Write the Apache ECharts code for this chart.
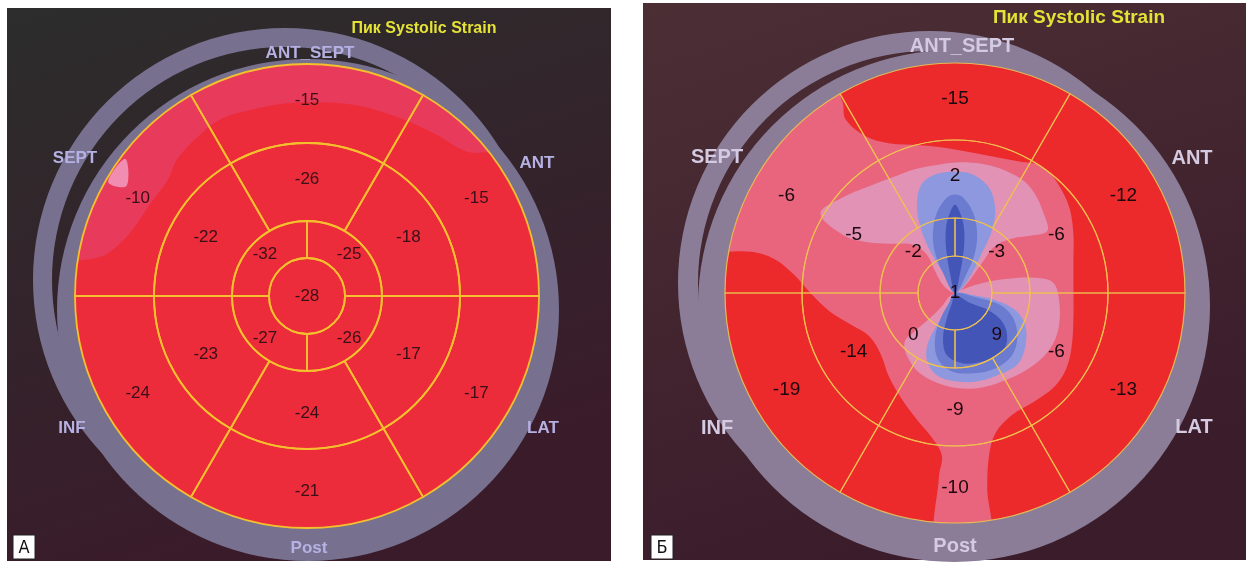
<!DOCTYPE html>
<html><head><meta charset="utf-8">
<script src="https://cdn.jsdelivr.net/npm/echarts@6/dist/echarts.min.js"></script>
<style>html,body{margin:0;padding:0;background:#fff}#c{width:1251px;height:564px}</style>
</head><body><div id="c"></div>
<script>
// ---------- data (17-segment bull's eye, peak systolic strain, %) ----------
// basal ring, clockwise from the ANT_SEPT segment (top)
const basalA = [-15, -15, -17, -21, -24, -10];
const midA = [-26, -18, -17, -24, -23, -22];
// apical ring: upper-right, lower-right, lower-left, upper-left
const apicalA = [-25, -26, -27, -32];
const apexA = [-28];
const basalB = [-15, -12, -13, -10, -19, -6];
const midB = [2, -6, -6, -9, -14, -5];
const apicalB = [-3, 9, 0, -2];
const apexB = [1];
const wallNames = ['ANT_SEPT', 'SEPT', 'ANT', 'INF', 'LAT', 'Post'];
const titleText = 'Пик Systolic Strain';
const panelLetters = ['А', 'Б'];

// colour-field outlines: [x, y] in % of outer radius (x right, y up)
const fieldA_band = [[-110,15.2],[-100,15.2],[-88.7,17],[-81.7,21.7],[-74.8,29.1],[-67.4,40],[-60,50],[-56.1,58.7],[-47.4,68.3],[-37.4,76.1],[-23.5,80.4],[-9.6,83],[3.9,83.5],[21.3,82.2],[38.3,77.4],[55.7,69.6],[65.9,63.5],[72.6,61.7],[85,65],[65,100],[0,115],[-65,100],[-110,50]];
const fieldA_spot = [[-78.3,59.1],[-77.8,47.4],[-85.7,49.1]];

const fieldB_pink = [[-54.6,93.9],[-48.9,83],[-47.6,75.5],[-38.9,68.1],[-28.8,65.1],[-15.3,64.2],[-3.1,62.9],[14,59.8],[27.9,57.2],[36.2,55.9],[41.5,52],[46.7,44.1],[50,36.2],[51.5,25.3],[51.5,14],[51.5,1.7],[51.5,-10.9],[50.7,-23.6],[48.3,-33],[43.2,-40.8],[34.5,-47.2],[24.5,-53.3],[17.5,-61.1],[14.8,-70.7],[14,-84.7],[14.8,-109],[-7.4,-109],[-7,-79.9],[-5.7,-70.7],[-10,-62.9],[-16.6,-55],[-23.6,-45.4],[-28.8,-36.2],[-32.3,-26.6],[-37.3,-18.8],[-45.9,-13.4],[-54.6,-7.9],[-62.9,0],[-69.9,7.9],[-78.6,14.8],[-88.6,17.9],[-100.4,17.9],[-109,17.9],[-109,52.4],[-83,87.3]];
const fieldB_lightUp = [[-58.5,34.5],[-48.9,41.5],[-37.1,46.5],[-27.1,50.3],[-17.5,53.8],[-6.6,55.9],[2.2,56.8],[13.1,55.9],[21.8,53.3],[29.7,48.9],[34.9,42.8],[38.4,34.9],[40.2,27.1],[32.8,24.9],[26.2,24],[17.5,20.5],[11.8,13.1],[4.4,3.1],[0,0],[-5.2,3.5],[-8.7,9.6],[-12.2,16.6],[-18.3,21],[-28.4,21.4],[-39.3,22.3],[-48,24.9]];
const fieldB_lightLow = [[-2.2,-1.3],[8.7,3.5],[21.8,6.1],[34.9,6.6],[42.8,4.4],[45.4,-4.4],[45,-15.3],[41.5,-24],[34.1,-31.4],[22.7,-37.6],[8.7,-41.5],[-4.4,-40.2],[-15.3,-34.9],[-21,-27.1],[-21.8,-21],[-17.5,-16.6],[-10.9,-10.9],[-5.2,-5.2]];
const fieldB_blueUp1 = [[0,0],[-3,5.7],[-7.9,13.1],[-13.1,23.1],[-16.2,33.6],[-16.2,42.4],[-14,48],[-8.7,51.5],[0,52.8],[8.7,51.1],[15.3,45],[17.5,36.2],[16.2,27.5],[11.8,17.5],[5.7,5.7]];
const fieldB_blueUp2 = [[0,0],[-5.2,8.7],[-8.7,17.5],[-9.6,26.2],[-7.9,34.9],[-3.5,41.5],[0,42.8],[3.5,41.5],[7.9,34.9],[9.6,26.2],[8.7,17.5],[5.2,8.7]];
const fieldB_blueUp3 = [[0,0],[-2.2,8.7],[-3.9,19.7],[-3.9,28.4],[-2.2,34.9],[0,38.4],[2.2,34.9],[3.9,28.4],[3.9,19.7],[2.2,8.7]];
const fieldB_blueLow1 = [[0,0],[7.4,-0.9],[17.5,-3.1],[26.2,-7.4],[30.6,-14.4],[30.6,-23.1],[27.5,-30.6],[20.5,-34.9],[10,-38.4],[0,-38.4],[-7.9,-35.8],[-12.2,-29.3],[-11.8,-21.8],[-7.4,-13.1],[-3.1,-5.7]];
const fieldB_blueLow2 = [[0,0],[8.7,-1.7],[19.7,-5.2],[25.3,-10.9],[27.1,-19.7],[24.5,-27.5],[17.5,-32.8],[7.9,-34.9],[-1.3,-34.1],[-7.4,-28.8],[-8.7,-19.7],[-6.1,-10.9],[-2.6,-4.4]];
const fieldB_blueLow3 = [[0,-0.9],[6.6,-4.4],[15.3,-7.9],[21,-13.1],[22.7,-20.1],[20.1,-26.2],[12.2,-29.7],[3.5,-30.6],[-3.5,-27.1],[-5.2,-19.7],[-3.5,-10.9],[-1.3,-4.4]];

// ---------- layout & style ----------
const P = [
  {center:[307,296], radii:[38,75,153,232], red:'#ec2c3a', line:'#f4c02e', lw:1.8, num:'#3a1018', fs:17, ring:'#77718f', wall:'#b5b1e2', wfs:17,
   fields:[fieldA_band, fieldA_spot], fieldColors:['#e83a5a','#f08db0'],
   bg:[7,8,604,553], bgTop:'#2c2d2c', bgBot:'#3a1b2a',
   ringB:[285,280,252,233], ringA:[308,310,251],
   title:[424,29,16], walls:[[310,53],[75,158],[537,163],[72,428],[543,428],[309,548]], box:[13,535]},
  {center:[955,293], radii:[37,75,153,230], red:'#ec2a2b', line:'rgba(240,192,80,0.9)', lw:1.2, num:'#1c080f', fs:19, ring:'#8b7d97', wall:'#d4cae2', wfs:20,
   fields:[fieldB_pink, fieldB_lightUp, fieldB_lightLow, fieldB_blueUp1, fieldB_blueUp2, fieldB_blueUp3, fieldB_blueLow1, fieldB_blueLow2, fieldB_blueLow3],
   fieldColors:['#e9647d','#e292b5','#e292b5','#8e98de','#6b7bd0','#4356b8','#8e98de','#6b7bd0','#4356b8'],
   bg:[643,3,603,557], bgTop:'#4c2f35', bgBot:'#3b1c2b',
   ringB:[930,283,252,232], ringA:[954,306,256],
   title:[1079,18,19], walls:[[962,46],[717,157],[1192,158],[717,428],[1194,427],[955,546]], box:[651,535]}
];
const values = [[apexA, apicalA, midA, basalA], [apexB, apicalB, midB, basalB]];

function fieldRender(p) {
  return function (params, api) {
    const i = api.value(2);
    if (i < 0) {
      const cs = params.coordSys;
      return {type:'circle', shape:{cx:cs.cx, cy:cs.cy, r:cs.r}, style:{fill:p.red}};
    }
    const pts = p.fields[i].map(([x, y]) => api.coord([Math.hypot(x, y) / 100, Math.atan2(y, x) * 180 / Math.PI]));
    return {type:'polygon', shape:{points:pts, smooth:0.35}, style:{fill:p.fieldColors[i]}};
  };
}

const series = [];
const graphic = [];
P.forEach((p, k) => {
  series.push({
    type:'custom', coordinateSystem:'polar', polarIndex:k, clip:true, silent:true, animation:false, z:2,
    renderItem: fieldRender(p),
    data: [[0,0,-1]].concat(p.fields.map((f, i) => [0,0,i]))
  });
  const v = values[k];
  const ringStart = [90, 90, 120, 120];
  for (let j = 0; j < 4; j++) {
    series.push({
      type:'pie', center:p.center, radius:[j === 0 ? 0 : p.radii[j-1], p.radii[j]],
      startAngle:ringStart[j], clockwise:true, silent:true, animation:false, z:5,
      avoidLabelOverlap:false, labelLine:{show:false}, emphasis:{disabled:true},
      itemStyle:{color:'rgba(0,0,0,0)', borderColor:p.line, borderWidth:p.lw},
      label:{show:true, position: j === 0 ? 'center' : 'inside', formatter:'{b}', color:p.num,
             fontSize:p.fs, fontFamily:'Liberation Sans, Arial, sans-serif', rotate:0},
      data: v[j].map(x => ({value:1, name:String(x)}))
    });
  }
  graphic.push({type:'rect', z:0, silent:true, shape:{x:p.bg[0], y:p.bg[1], width:p.bg[2], height:p.bg[3]},
    style:{fill:{type:'linear', x:0, y:0, x2:0.3, y2:1, colorStops:[{offset:0, color:p.bgTop},{offset:1, color:p.bgBot}]}}});
  graphic.push({type:'ring', z:1, silent:true, shape:{cx:p.ringB[0], cy:p.ringB[1], r:p.ringB[2], r0:p.ringB[3]}, style:{fill:p.ring}});
  graphic.push({type:'circle', z:1, silent:true, shape:{cx:p.ringA[0], cy:p.ringA[1], r:p.ringA[2]}, style:{fill:p.ring}});
  p.walls.forEach((w, i) => graphic.push({type:'text', z:10, silent:true, x:w[0], y:w[1],
    style:{text:wallNames[i], fill:p.wall, font:'bold ' + p.wfs + 'px "Liberation Sans", Arial, sans-serif', align:'center', verticalAlign:'middle'}}));
  graphic.push({type:'text', z:10, silent:true, x:p.title[0], y:p.title[1],
    style:{text:titleText, fill:'#e4e236', font:'bold ' + p.title[2] + 'px "Liberation Sans", Arial, sans-serif', align:'center', verticalAlign:'middle'}});
  graphic.push({type:'rect', z:10, silent:true, shape:{x:p.box[0], y:p.box[1], width:22, height:24}, style:{fill:'#fff', stroke:'#222', lineWidth:1}});
  graphic.push({type:'text', z:11, silent:true, x:p.box[0] + 11, y:p.box[1] + 13,
    style:{text:panelLetters[k], fill:'#111', font:'18px "Liberation Sans Narrow", "DejaVu Sans Condensed", "Liberation Sans", sans-serif', align:'center', verticalAlign:'middle'}});
});

const chart = echarts.init(document.getElementById('c'), null, {renderer:'canvas'});
chart.setOption({
  animation:false,
  backgroundColor:'#ffffff',
  polar: P.map(p => ({center:p.center, radius:p.radii[3]})),
  angleAxis: P.map((p, k) => ({polarIndex:k, type:'value', min:0, max:360, startAngle:0, clockwise:false, show:false})),
  radiusAxis: P.map((p, k) => ({polarIndex:k, type:'value', min:0, max:1, show:false})),
  graphic: graphic,
  series: series
});
</script>
</body></html>
